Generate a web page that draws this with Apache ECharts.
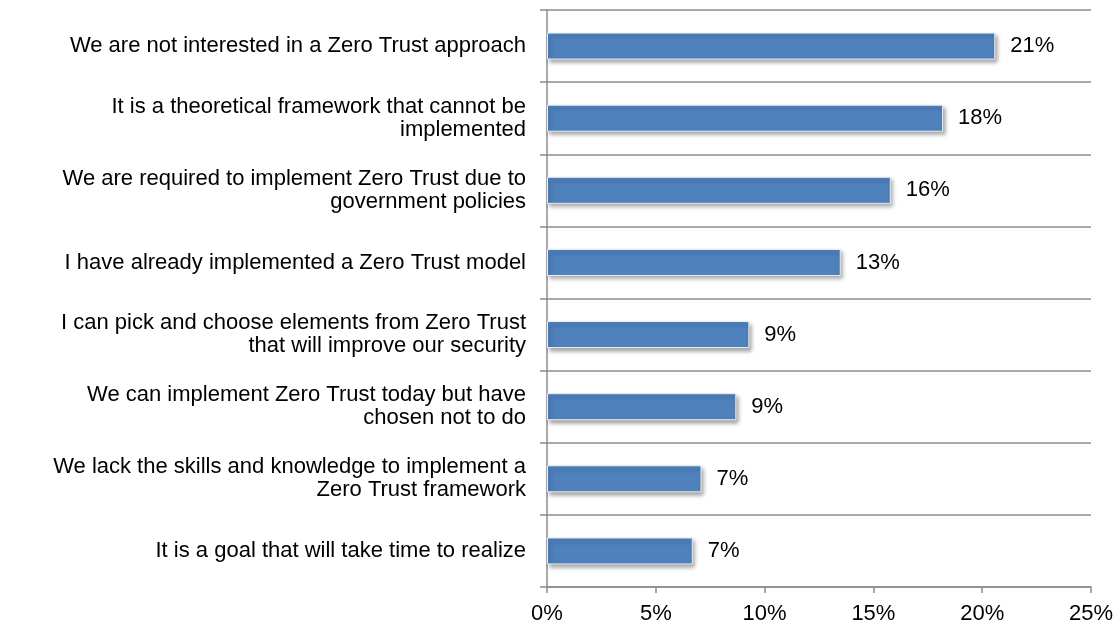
<!DOCTYPE html>
<html>
<head>
<meta charset="utf-8">
<script src="https://cdn.jsdelivr.net/npm/echarts@6/dist/echarts.min.js"></script>
<style>
  html, body { margin: 0; padding: 0; background: #fff; }
  #chart { width: 1120px; height: 627px; }
</style>
</head>
<body>
<div id="chart"></div>
<script>
var categories = [
  'We are not interested in a Zero Trust approach',
  'It is a theoretical framework that cannot be\nimplemented',
  'We are required to implement Zero Trust due to\ngovernment policies',
  'I have already implemented a Zero Trust model',
  'I can pick and choose elements from Zero Trust\nthat will improve our security',
  'We can implement Zero Trust today but have\nchosen not to do',
  'We lack the skills and knowledge to implement a\nZero Trust framework',
  'It is a goal that will take time to realize'
];
var values = [20.6, 18.2, 15.8, 13.5, 9.3, 8.7, 7.1, 6.7];
var shownLabels = ['21%', '18%', '16%', '13%', '9%', '9%', '7%', '7%'];

var axisGray = '#8c8c8c';
var chart = echarts.init(document.getElementById('chart'));

chart.setOption({
  animation: false,
  textStyle: { fontFamily: 'Liberation Sans, Arial, sans-serif' },
  grid: { left: 547, right: 29, top: 10, bottom: 40, containLabel: false },
  xAxis: {
    type: 'value',
    min: 0,
    max: 25,
    interval: 5,
    axisLine: { show: true, lineStyle: { color: axisGray, width: 1.5 } },
    axisTick: { show: true, length: 6, lineStyle: { color: axisGray, width: 1.5 } },
    axisLabel: {
      color: '#000',
      fontSize: 22,
      margin: 16,
      formatter: function (v) { return v + '%'; }
    },
    splitLine: { show: false }
  },
  yAxis: {
    type: 'category',
    data: categories,
    inverse: true,
    axisLine: { show: true, lineStyle: { color: axisGray, width: 1.5 } },
    axisTick: { show: true, length: 7, lineStyle: { color: axisGray, width: 1.5 } },
    axisLabel: {
      color: '#000',
      fontSize: 22,
      lineHeight: 23,
      margin: 21,
      align: 'right'
    },
    splitLine: { show: true, lineStyle: { color: axisGray, width: 1.5 } }
  },
  series: [{
    type: 'bar',
    data: values,
    barWidth: 27,
    itemStyle: {
      color: '#4f81bd',
      borderColor: '#e8eef7',
      borderWidth: 1,
      shadowColor: 'rgba(0,0,0,0.35)',
      shadowBlur: 4,
      shadowOffsetX: 2,
      shadowOffsetY: 3
    },
    label: {
      show: true,
      position: 'right',
      distance: 15,
      color: '#000',
      fontSize: 22,
      formatter: function (p) { return shownLabels[p.dataIndex]; }
    }
  }]
});
</script>
</body>
</html>
